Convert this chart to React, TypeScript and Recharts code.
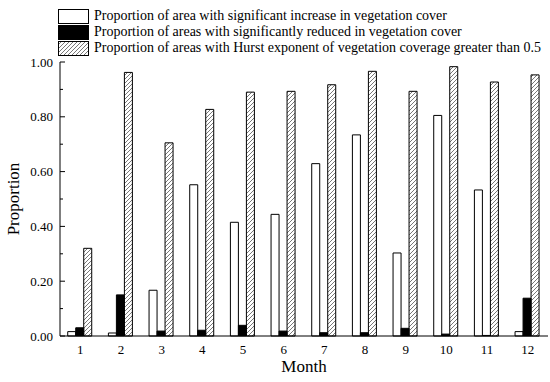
import { BarChart, Bar, XAxis, YAxis } from "recharts"

const months = ["1", "2", "3", "4", "5", "6", "7", "8", "9", "10", "11", "12"]
const increase = [0.016, 0.011, 0.167, 0.552, 0.415, 0.444, 0.629, 0.734, 0.303, 0.805, 0.533, 0.016]
const reduced = [0.03, 0.15, 0.018, 0.021, 0.039, 0.018, 0.012, 0.012, 0.028, 0.007, 0.002, 0.138]
const hurst = [0.32, 0.962, 0.705, 0.827, 0.89, 0.893, 0.917, 0.966, 0.893, 0.983, 0.927, 0.953]
const yTicks = [0, 0.1, 0.2, 0.3, 0.4, 0.5, 0.6, 0.7, 0.8, 0.9, 1.0]

const legendLabels = [
  "Proportion of area with significant increase in vegetation cover",
  "Proportion of areas with significantly reduced in vegetation cover",
  "Proportion of areas with Hurst exponent of vegetation coverage greater than 0.5",
]

const data = months.map((m, i) => ({
  month: m,
  increase: increase[i],
  reduced: reduced[i],
  hurst: hurst[i],
}))

const font = "Liberation Serif"

function YTick(props: any) {
  const { x, y, payload } = props
  const v = payload.value
  const major = Math.round(v * 10) % 2 === 0
  return (
    <g>
      <line x1={x} x2={x + (major ? 5 : 3)} y1={y} y2={y} stroke="#000" strokeWidth={1} />
      {major && (
        <text x={x - 7} y={y} dy={4.5} textAnchor="end" fontSize={13} fill="#000" fontFamily={font}>
          {v.toFixed(2)}
        </text>
      )}
    </g>
  )
}

function Swatch({ kind }: { kind: number }) {
  return (
    <svg width={31} height={15} style={{ display: "block" }}>
      <defs>
        <pattern id={"hatchLegend" + kind} patternUnits="userSpaceOnUse" width={4} height={4}>
          <path d="M-1,1 l2,-2 M0,4 l4,-4 M3,5 l2,-2" stroke="#555" strokeWidth={0.8} />
        </pattern>
      </defs>
      <rect
        x={0.5}
        y={0.5}
        width={30}
        height={14}
        fill={kind === 0 ? "#fff" : kind === 1 ? "#000" : `url(#hatchLegend${kind})`}
        stroke="#000"
        strokeWidth={1}
      />
    </svg>
  )
}

export default function App() {
  return (
    <div style={{ position: "absolute", left: 0, top: 0, width: 550, height: 382, background: "#fff" }}>
      <BarChart
        width={550}
        height={382}
        data={data}
        margin={{ top: 62, right: 2, bottom: 6, left: 0 }}
        barCategoryGap="19%"
        barGap={0}
      >
        <defs>
          <pattern id="hatch" patternUnits="userSpaceOnUse" width={4} height={4}>
            <path d="M-1,1 l2,-2 M0,4 l4,-4 M3,5 l2,-2" stroke="#555" strokeWidth={0.8} />
          </pattern>
        </defs>
        <XAxis
          dataKey="month"
          height={40}
          tickLine={false}
          axisLine={{ stroke: "#000" }}
          tick={{ fontSize: 13, fill: "#000", fontFamily: font }}
          tickMargin={3}
          label={{ value: "Month", position: "insideBottom", offset: 4, fontSize: 17, fill: "#000", fontFamily: font }}
        />
        <XAxis xAxisId="top" dataKey="month" orientation="top" height={0} tick={false} tickLine={false} axisLine={{ stroke: "#000" }} />
        <YAxis
          domain={[0, 1]}
          ticks={yTicks}
          width={60}
          tickSize={0}
          tickMargin={0}
          tickLine={false}
          axisLine={{ stroke: "#000" }}
          tick={<YTick />}
          interval={0}
          label={{ value: "Proportion", angle: -90, position: "insideLeft", offset: 13, fontSize: 17, fill: "#000", fontFamily: font, style: { textAnchor: "middle" } }}
        />
        <YAxis yAxisId="right" orientation="right" width={0} tick={false} tickLine={false} axisLine={{ stroke: "#000" }} />
        <Bar dataKey="increase" fill="#fff" stroke="#000" strokeWidth={1} isAnimationActive={false} />
        <Bar dataKey="reduced" fill="#000" stroke="#000" strokeWidth={1} isAnimationActive={false} />
        <Bar dataKey="hurst" fill="url(#hatch)" stroke="#000" strokeWidth={1} isAnimationActive={false} />
      </BarChart>
      <div style={{ position: "absolute", left: 58, top: 8, fontFamily: font, fontSize: 14, color: "#000" }}>
        {legendLabels.map((t, i) => (
          <div key={i} style={{ display: "flex", alignItems: "center", height: 16, whiteSpace: "nowrap" }}>
            <Swatch kind={i} />
            <span style={{ marginLeft: 5 }}>{t}</span>
          </div>
        ))}
      </div>
    </div>
  )
}
